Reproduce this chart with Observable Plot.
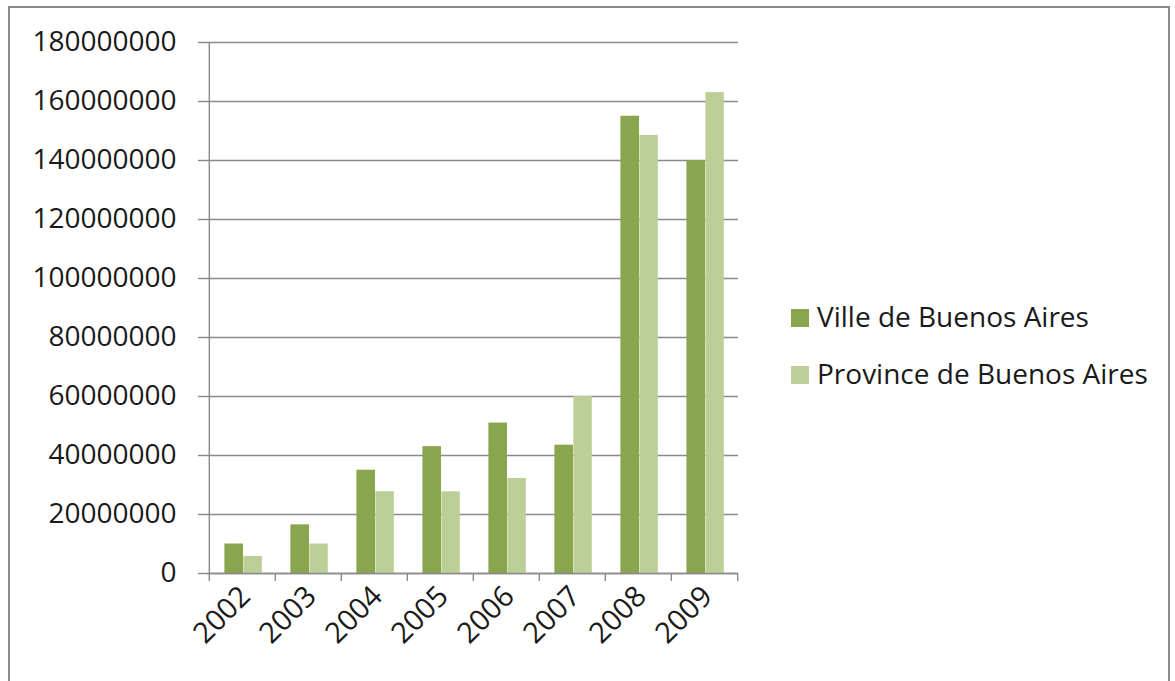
<!DOCTYPE html>
<html>
<head>
<meta charset="utf-8">
<script src="https://cdn.jsdelivr.net/npm/d3@7"></script>
<script src="https://cdn.jsdelivr.net/npm/@observablehq/plot@0.6"></script>
<style>
  html, body { margin: 0; padding: 0; background: #fff; overflow: hidden; width: 1175px; height: 681px; }
  #frame { position: absolute; left: 8px; top: 6px; width: 1162px; height: 700px; border: 2px solid #8a8a8a; box-sizing: border-box; }
  #chart { position: absolute; left: 0; top: 0; }
  .leg { position: absolute; left: 791px; font-family: "Open Sans", sans-serif; font-size: 28px; color: #1a1a1a; white-space: nowrap; line-height: 1; }
  .leg .sw { position: absolute; left: 0; width: 18px; height: 18px; }
  .leg .tx { position: absolute; left: 26px; }
</style>
</head>
<body>
<div id="frame"></div>
<div id="chart"></div>
<div id="legend"></div>
<script>
const years = ["2002", "2003", "2004", "2005", "2006", "2007", "2008", "2009"];
const villeValues = [10000000, 16500000, 35000000, 43000000, 51000000, 43500000, 155000000, 140000000];
const provinceValues = [5800000, 10000000, 27700000, 27700000, 32200000, 60000000, 148500000, 163000000];
const seriesNames = ["Ville de Buenos Aires", "Province de Buenos Aires"];
const seriesColors = ["#89a54e", "#bbcf97"];
const yTicks = [0, 20000000, 40000000, 60000000, 80000000, 100000000, 120000000, 140000000, 160000000, 180000000];

const data = years.map((year, i) => ({year, ville: villeValues[i], province: provinceValues[i]}));

const W = 760, H = 681, ML = 207, MR = 22, MT = 42, MB = 108;
const half = (W - ML - MR) / years.length / 2;
const gray = "#8a8a8a";

const chart = Plot.plot({
  width: W, height: H,
  marginLeft: ML, marginRight: MR, marginTop: MT, marginBottom: MB,
  style: {fontFamily: "Open Sans, sans-serif", background: "transparent", color: "#1a1a1a"},
  x: {type: "band", domain: years, padding: 0, label: null},
  y: {domain: [0, yTicks[yTicks.length - 1]], label: null},
  marks: [
    Plot.gridY(yTicks, {stroke: gray, strokeOpacity: 1, strokeWidth: 1.4}),
    Plot.axisY(yTicks, {tickSize: 9, tickPadding: 22, stroke: gray, strokeWidth: 1.4, fontSize: 28, fill: "#1a1a1a", tickFormat: d => String(d), label: null}),
    Plot.barY(data, {x: "year", y: "ville", fill: seriesColors[0], insetLeft: 15.4, insetRight: 32}),
    Plot.barY(data, {x: "year", y: "province", fill: seriesColors[1], insetLeft: 34.4, insetRight: 13.2}),
    Plot.ruleY([0], {stroke: gray, strokeWidth: 1.4}),
    Plot.ruleX([years[0]], {x: d => d, y1: 0, y2: yTicks[yTicks.length - 1], dx: -half, stroke: gray, strokeWidth: 1.4}),
    Plot.ruleX(years, {x: d => d, y1: 0, y2: 0, insetBottom: -8, dx: -half, stroke: gray, strokeWidth: 1.4}),
    Plot.ruleX([years[years.length - 1]], {x: d => d, y1: 0, y2: 0, insetBottom: -8, dx: half, stroke: gray, strokeWidth: 1.4}),
    Plot.axisX({tickSize: 0, tickRotate: -45, tickPadding: 18, dx: 3, fontSize: 29, fill: "#1a1a1a", label: null})
  ]
});
document.getElementById("chart").appendChild(chart);

const legend = document.getElementById("legend");
const legTops = [309, 366];
seriesNames.forEach((name, i) => {
  const row = document.createElement("div");
  row.className = "leg";
  row.style.top = legTops[i] + "px";
  row.innerHTML = `<div class="sw" style="background:${seriesColors[i]}"></div><div class="tx" style="top:-7px">${name}</div>`;
  legend.appendChild(row);
});
</script>
</body>
</html>
